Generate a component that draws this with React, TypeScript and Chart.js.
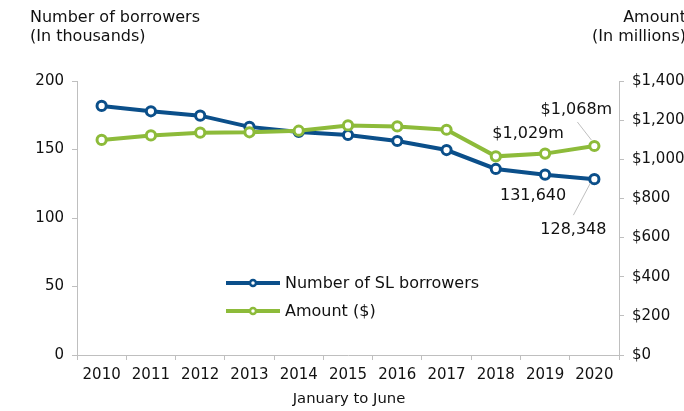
import React, { useEffect, useRef } from 'react';
import { Chart, registerables } from 'chart.js';

Chart.register(...registerables);

const years = ['2010', '2011', '2012', '2013', '2014', '2015', '2016', '2017', '2018', '2019', '2020'];
// Number of SL borrowers, in thousands
const borrowers = [181.8, 177.9, 174.7, 166.5, 162.8, 160.6, 156.2, 149.6, 135.8, 131.64, 128.348];
// Amount, in millions of dollars
const amount = [1099, 1122, 1136, 1138, 1146, 1173, 1168, 1151, 1015, 1029, 1068];

const leftTitle = ['Number of borrowers', '(In thousands)'];
const rightTitle = ['Amount', '(In millions)'];
const xTitle = 'January to June';
const seriesNames = ['Number of SL borrowers', 'Amount ($)'];

const BLUE = '#0B4F8A';
const GREEN = '#8DBB3A';
const AXIS = '#BFBFBF';
const TEXT = '#111111';
const FONT = '"DejaVu Sans", Verdana, sans-serif';

const fmtMoney = (v: number) => '$' + Math.round(v).toLocaleString('en-US');

const extrasPlugin = {
  id: 'extras',
  afterDraw(chart: any) {
    const ctx = chart.ctx as CanvasRenderingContext2D;
    const area = chart.chartArea;
    ctx.save();
    ctx.fillStyle = TEXT;
    // axis titles
    ctx.font = `16px ${FONT}`;
    ctx.textBaseline = 'middle';
    ctx.textAlign = 'left';
    ctx.fillText(leftTitle[0], 30, 18);
    ctx.fillText(leftTitle[1], 30, 37);
    ctx.textAlign = 'right';
    ctx.fillText(rightTitle[0], 686, 18);
    ctx.fillText(rightTitle[1], 686, 37);
    ctx.font = `14.8px ${FONT}`;
    ctx.textAlign = 'center';
    ctx.fillText(xTitle, (area.left + area.right) / 2 + 1, 399);

    // legend
    const lx = area.left + 149;
    const ly = area.top + 202;
    const colors = [BLUE, GREEN];
    ctx.font = `16px ${FONT}`;
    ctx.textAlign = 'left';
    for (let i = 0; i < 2; i++) {
      const y = ly + i * 28;
      ctx.strokeStyle = colors[i];
      ctx.lineWidth = 4;
      ctx.beginPath();
      ctx.moveTo(lx, y);
      ctx.lineTo(lx + 54, y);
      ctx.stroke();
      ctx.beginPath();
      ctx.arc(lx + 27, y, 3, 0, Math.PI * 2);
      ctx.fillStyle = '#fff';
      ctx.fill();
      ctx.lineWidth = 2.5;
      ctx.stroke();
      ctx.fillStyle = TEXT;
      ctx.fillText(seriesNames[i], lx + 59, y + 1);
    }

    // data labels
    const b = chart.getDatasetMeta(0).data;
    const a = chart.getDatasetMeta(1).data;
    const n = years.length;
    ctx.font = `16px ${FONT}`;
    ctx.textAlign = 'center';
    ctx.fillStyle = TEXT;
    const a19 = a[n - 2], a20 = a[n - 1], b19 = b[n - 2], b20 = b[n - 1];
    ctx.fillText(fmtMoney(amount[n - 2]) + 'm', a19.x - 17, a19.y - 20);
    ctx.fillText(fmtMoney(amount[n - 1]) + 'm', a20.x - 18, a20.y - 36);
    ctx.fillText(Math.round(borrowers[n - 2] * 1000).toLocaleString('en-US'), b19.x - 12, b19.y + 21);
    ctx.fillText(Math.round(borrowers[n - 1] * 1000).toLocaleString('en-US'), b20.x - 21, b20.y + 51);
    // leader lines
    ctx.strokeStyle = AXIS;
    ctx.lineWidth = 1;
    ctx.beginPath();
    ctx.moveTo(a20.x - 17, a20.y - 24);
    ctx.lineTo(a20.x - 3, a20.y - 6);
    ctx.moveTo(b20.x - 4, b20.y + 4);
    ctx.lineTo(b20.x - 21, b20.y + 36);
    ctx.stroke();
    ctx.restore();
  },
};

export default function App() {
  const ref = useRef<HTMLCanvasElement>(null);
  useEffect(() => {
    if (!ref.current) return;
    const tickFont = { family: FONT, size: 15 };
    const chart = new Chart(ref.current, {
      type: 'line',
      data: {
        labels: years,
        datasets: [
          {
            label: seriesNames[0],
            data: borrowers,
            yAxisID: 'y',
            borderColor: BLUE,
            backgroundColor: '#fff',
            borderWidth: 4,
            pointRadius: 4.6,
            pointBorderWidth: 3,
            pointBackgroundColor: '#fff',
            pointBorderColor: BLUE,
            tension: 0,
            order: 1,
          },
          {
            label: seriesNames[1],
            data: amount,
            yAxisID: 'y1',
            borderColor: GREEN,
            backgroundColor: '#fff',
            borderWidth: 4,
            pointRadius: 4.6,
            pointBorderWidth: 3,
            pointBackgroundColor: '#fff',
            pointBorderColor: GREEN,
            tension: 0,
            order: 0,
          },
        ],
      },
      options: {
        responsive: false,
        animation: false,
        layout: { padding: { top: 81, left: 0, right: 0, bottom: 0 } },
        plugins: { legend: { display: false }, tooltip: { enabled: false } },
        scales: {
          x: {
            offset: true,
            grid: { offset: true, drawOnChartArea: false, drawTicks: true, tickLength: 5, color: AXIS },
            border: { color: AXIS },
            ticks: { font: tickFont, color: TEXT, padding: 6, maxRotation: 0, autoSkip: false },
            afterFit: (s: any) => { s.height = 56; },
          },
          y: {
            position: 'left',
            min: 0,
            max: 200,
            grid: { drawOnChartArea: false, drawTicks: true, tickLength: 5, color: AXIS },
            border: { color: AXIS },
            ticks: { stepSize: 50, font: tickFont, color: TEXT, padding: 8 },
            afterFit: (s: any) => { s.width = 77; },
          },
          y1: {
            position: 'right',
            min: 0,
            max: 1400,
            grid: { drawOnChartArea: false, drawTicks: true, tickLength: 5, color: AXIS },
            border: { color: AXIS },
            ticks: { stepSize: 200, font: tickFont, color: TEXT, padding: 8, callback: (v: any) => fmtMoney(Number(v)) },
            afterFit: (s: any) => { s.width = 65; },
          },
        },
      },
      plugins: [extrasPlugin],
    });
    return () => chart.destroy();
  }, []);
  return (
    <canvas
      ref={ref}
      width={684}
      height={411}
      style={{ position: 'fixed', left: 0, top: 0, width: 684, height: 411, background: '#fff' }}
    />
  );
}
